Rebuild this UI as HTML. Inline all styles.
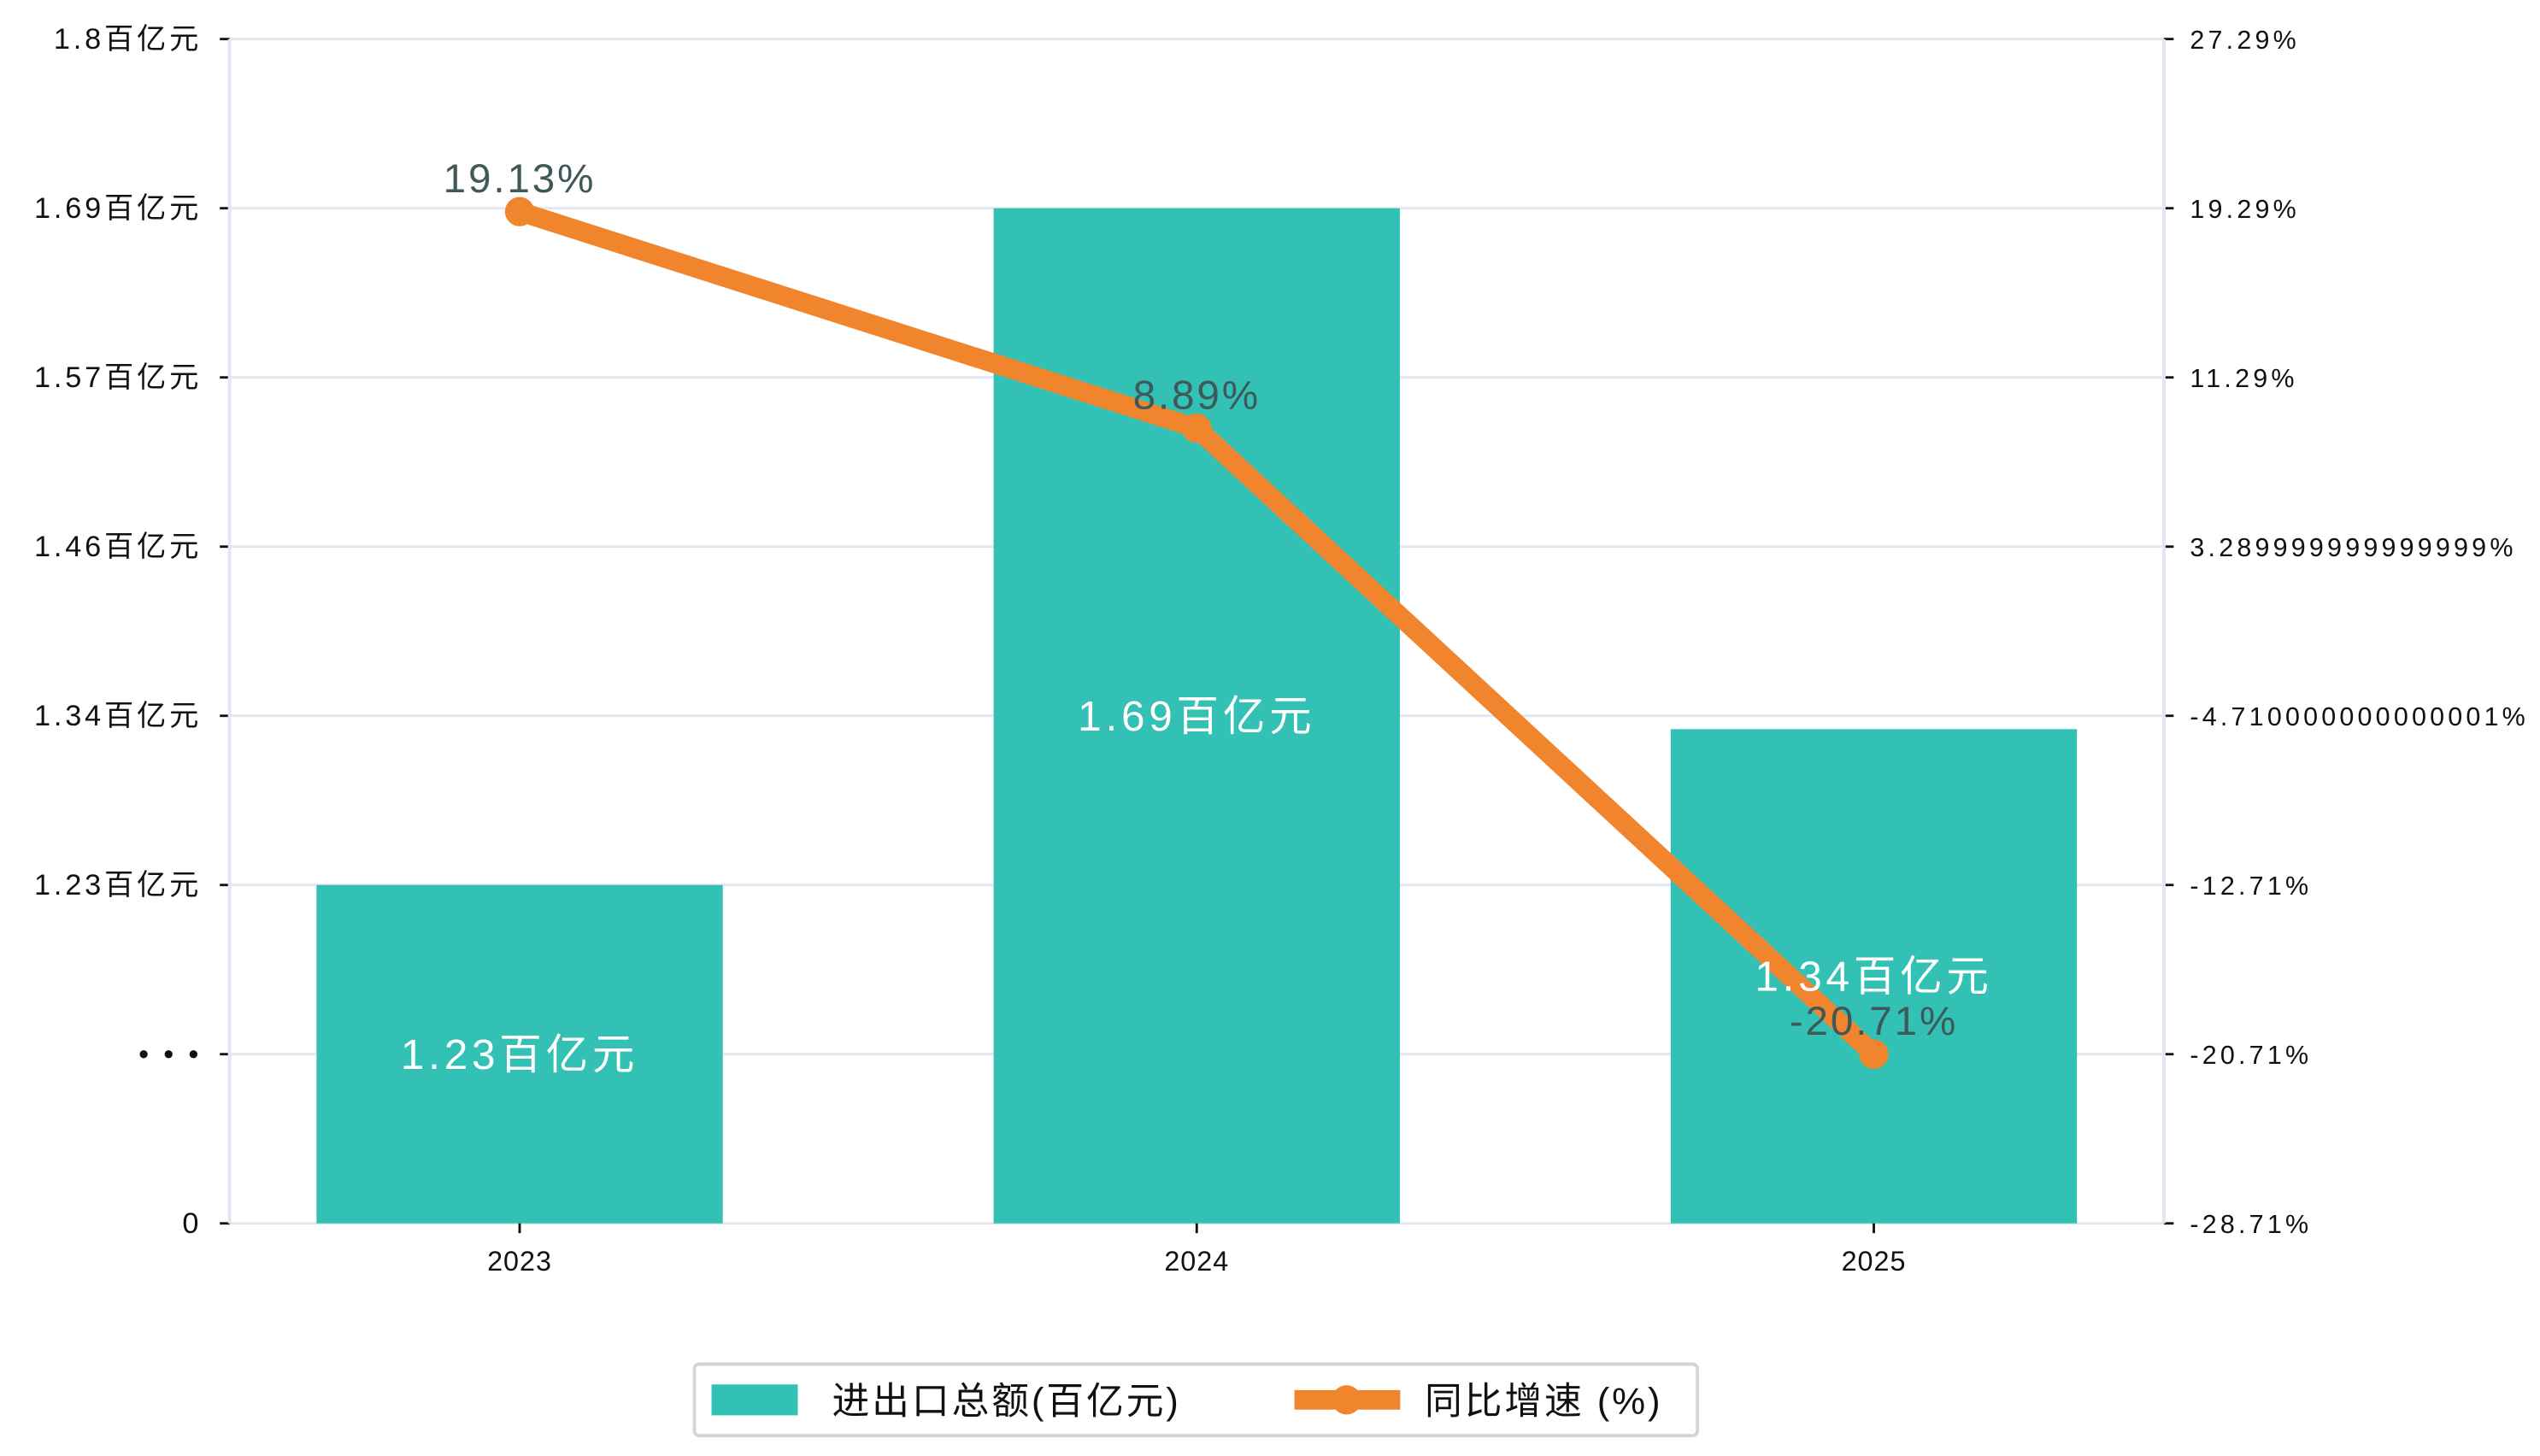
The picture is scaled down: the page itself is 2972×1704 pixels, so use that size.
<!DOCTYPE html>
<html><head><meta charset="utf-8">
<style>
html,body{margin:0;padding:0;background:#fff;}
svg{display:block;}
text{font-family:"Liberation Sans","Noto Sans CJK SC",sans-serif;}
</style></head>
<body>
<svg id="chart" width="2972" height="1704" viewBox="0 0 1560 895" preserveAspectRatio="none" xmlns="http://www.w3.org/2000/svg">
<g id="grid"></g>
<g id="bars"></g>
<g id="axes"></g>
<g id="line"></g>
<g id="labels"></g>
<g>
  <rect x="426.5" y="838.5" width="616" height="44" rx="3" fill="#fff" stroke="#d4d4d4" stroke-width="2"/>
  <rect x="437" y="851" width="53" height="19" fill="#32c1b4"/>
  <text x="511" y="869" font-size="23" letter-spacing="1.5" fill="#111">进出口总额(百亿元)</text>
  <line x1="795" y1="860.5" x2="860" y2="860.5" stroke="#f0852d" stroke-width="12"/>
  <circle cx="827" cy="860.5" r="9" fill="#f0852d"/>
  <text x="875" y="869" font-size="23" letter-spacing="1.5" fill="#111">同比增速 (%)</text>
</g>
</svg>
<script>
const categories = ["2023", "2024", "2025"];
const totals = [1.23, 1.686, 1.335];
const totalLabels = ["1.23百亿元", "1.69百亿元", "1.34百亿元"];
const growth = [19.13, 8.89, -20.71];
const growthLabels = ["19.13%", "8.89%", "-20.71%"];
const leftTickValues = [1.8, 1.686, 1.572, 1.458, 1.344, 1.23, 1.116, 1.002];
const leftTickLabels = ["1.8百亿元", "1.69百亿元", "1.57百亿元", "1.46百亿元", "1.34百亿元", "1.23百亿元", "•  •  •", "0"];
const rightTickValues = [27.29, 19.29, 11.29, 3.29, -4.71, -12.71, -20.71, -28.71];
const rightTickLabels = ["27.29%", "19.29%", "11.29%", "3.289999999999999%", "-4.710000000000001%", "-12.71%", "-20.71%", "-28.71%"];

const NS = "http://www.w3.org/2000/svg";
const L = 141, R = 1329, T = 24, B = 752;
const yL = v => B - (v - 1.002) / (1.8 - 1.002) * (B - T);
const yR = v => B - (v + 28.71) / (27.29 + 28.71) * (B - T);
const xS = i => L + (i + 0.4284) / (2.8568) * (R - L);
const bw = 0.6 * (xS(1) - xS(0));
function mk(tag, attrs, parent, txt) {
  const e = document.createElementNS(NS, tag);
  for (const k in attrs) e.setAttribute(k, attrs[k]);
  if (txt !== undefined) e.textContent = txt;
  parent.appendChild(e); return e;
}
const grid = document.getElementById('grid'), axes = document.getElementById('axes'),
      bars = document.getElementById('bars'), line = document.getElementById('line'),
      labels = document.getElementById('labels');
leftTickValues.forEach((v, i) => {
  const y = yL(v);
  const g = mk('line', {x1: L, x2: R, y1: y, y2: y, stroke: '#e3e6f0', 'stroke-width': 1.5}, grid);
  
  
  const tk = mk('line', {x1: L - 6, x2: L, y1: y, y2: y, stroke: '#111', 'stroke-width': 1.5}, axes);
  
  
  const t = mk('text', {x: 124, y: y + 6, 'font-size': 18, 'letter-spacing': 2, 'text-anchor': 'end', fill: '#111'}, axes, leftTickLabels[i]);
  
  
});
rightTickValues.forEach((v, i) => {
  const y = yR(v);
  const tk = mk('line', {x1: R, x2: R + 6, y1: y, y2: y, stroke: '#111', 'stroke-width': 1.5}, axes);
  
  
  const t = mk('text', {x: 1345, y: y + 6, 'font-size': 16, 'letter-spacing': 2.2, fill: '#111'}, axes, rightTickLabels[i]);
  
  
});
const la = mk('line', {x1: L, x2: L, y1: T, y2: B, stroke: '#e3e6f0', 'stroke-width': 2}, axes);


const ra = mk('line', {x1: R, x2: R, y1: T, y2: B, stroke: '#e3e6f0', 'stroke-width': 2}, axes);


categories.forEach((c, i) => {
  const x = xS(i);
  const b = mk('rect', {x: x - bw / 2, y: yL(totals[i]), width: bw, height: B - yL(totals[i]), fill: '#32c1b4'}, bars);
  
  
  const tk = mk('line', {x1: x, x2: x, y1: B, y2: B + 6, stroke: '#111', 'stroke-width': 1.5}, axes);
  
  
  const t = mk('text', {x: x, y: 781, 'font-size': 17, 'letter-spacing': 0.5, 'text-anchor': 'middle', fill: '#111'}, axes, c);
  
  
  const bl = mk('text', {x: x, y: (yL(totals[i]) + B) / 2 + 9, 'font-size': 26, 'letter-spacing': 2.5, 'text-anchor': 'middle', fill: '#fff'}, labels, totalLabels[i]);
  
  
});
const pts = growth.map((v, i) => xS(i) + ',' + yR(v)).join(' ');
const pl = mk('polyline', {points: pts, fill: 'none', stroke: '#f0852d', 'stroke-width': 12, 'stroke-linejoin': 'round'}, line);


growth.forEach((v, i) => {
  const c = mk('circle', {cx: xS(i), cy: yR(v), r: 9, fill: '#f0852d'}, line);
  
  
  const t = mk('text', {x: xS(i), y: yR(v) - 12, 'font-size': 25, 'letter-spacing': 1.5, 'text-anchor': 'middle', fill: '#3f5858'}, labels, growthLabels[i]);
  
  
});
</script>
</body></html>
